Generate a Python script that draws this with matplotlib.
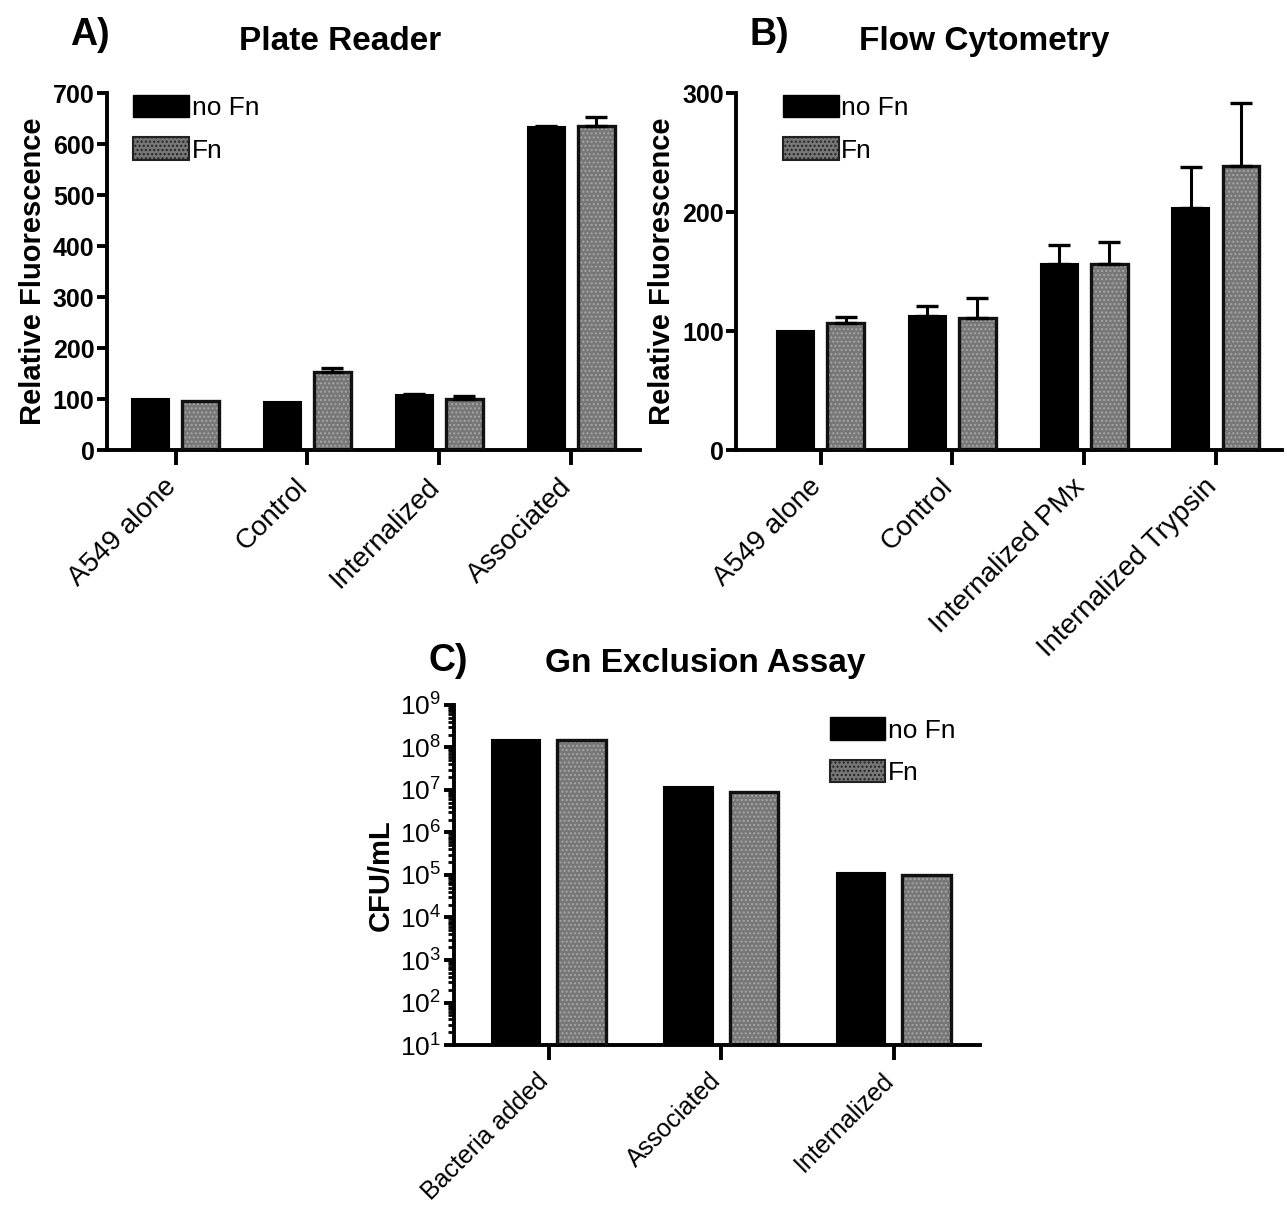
import numpy as np
import matplotlib
matplotlib.use("Agg")
import matplotlib.pyplot as plt
from matplotlib.patches import Patch
from matplotlib.ticker import LogLocator, NullFormatter, FixedLocator

plt.rcParams['font.family'] = ['Liberation Sans', 'DejaVu Sans']
plt.rcParams['hatch.linewidth'] = 1.0
plt.rcParams['mathtext.fontset'] = 'custom'
plt.rcParams['mathtext.rm'] = 'Liberation Sans'
plt.rcParams['mathtext.it'] = 'Liberation Sans'
plt.rcParams['mathtext.bf'] = 'Liberation Sans:bold'

# A) plate reader
plate_cats = ['A549 alone', 'Control', 'Internalized', 'Associated']
plate_nofn = [100, 95, 107, 634]
plate_nofn_err = [0, 0, 2, 2]
plate_fn = [97, 153, 100, 635]
plate_fn_err = [0, 8, 6, 18]

# B) flow cytometry
flow_cats = ['A549 alone', 'Control', 'Internalized PMx', 'Internalized Trypsin']
flow_nofn = [100, 113, 156, 203]
flow_nofn_err = [0, 8, 16, 35]
flow_fn = [107, 111, 156, 239]
flow_fn_err = [5, 17, 19, 53]

# C) gentamicin exclusion, CFU/mL
gn_cats = ['Bacteria added', 'Associated', 'Internalized']
gn_nofn = [1.5e8, 1.2e7, 1.1e5]
gn_fn = [1.45e8, 9.0e6, 1.0e5]

BAR_W = 0.28
OFF = 0.19
FN_GRAY = '#777777'
FN_DOTS = '#a6a6a6'


def draw_bars(ax, cats, nofn, fn, nofn_err=None, fn_err=None, label_size=20):
    x = np.arange(len(cats))
    ax.bar(x - OFF, nofn, BAR_W, color='black', edgecolor='black', lw=1.5, zorder=2)
    # speckled grey for the Fn series
    ax.bar(x + OFF, fn, BAR_W, color=FN_GRAY, edgecolor=FN_DOTS, hatch='....',
           lw=0, zorder=2)
    ax.bar(x + OFF, fn, BAR_W, fill=False, edgecolor='#111111', lw=2.4, zorder=3)
    for xs, vals, errs in ((x - OFF, nofn, nofn_err), (x + OFF, fn, fn_err)):
        if errs is None:
            continue
        for xi, v, e in zip(xs, vals, errs):
            if e > 0:
                ax.errorbar(xi, v, yerr=[[0], [e]], fmt='none', ecolor='black',
                            elinewidth=2.2, capsize=8, capthick=2.4, zorder=4)
    ax.set_xticks(x)
    ax.set_xticklabels([])
    # rotated category names, placed just under the tick marks
    for xi, name in zip(x, cats):
        ax.annotate(name, xy=(xi, 0), xycoords=('data', 'axes fraction'),
                    xytext=(-9, -17), textcoords='offset points',
                    rotation=45, rotation_mode='anchor', ha='right', va='top',
                    fontsize=label_size)
    ax.set_xlim(-0.52, len(cats) - 0.48)
    for s in ('top', 'right'):
        ax.spines[s].set_visible(False)
    for s in ('left', 'bottom'):
        ax.spines[s].set_linewidth(2.8)
    ax.tick_params(axis='x', length=11, width=2.8, pad=3)
    ax.tick_params(axis='y', length=7, width=2.8, pad=2, labelsize=18)


def bold_yticks(ax):
    for lab in ax.get_yticklabels():
        lab.set_fontweight('bold')


def fn_legend(ax, anchor):
    handles = [Patch(facecolor='black', edgecolor='black'),
               Patch(facecolor=FN_GRAY, edgecolor='#222222', hatch='....', lw=1.5)]
    ax.legend(handles, ['no Fn', 'Fn'], loc='upper left', bbox_to_anchor=anchor,
              frameon=False, fontsize=19, handlelength=2.1, handleheight=0.95,
              handletextpad=0.1, labelspacing=0.65, borderaxespad=0)


fig = plt.figure(figsize=(12.87, 12.11), dpi=100)

axA = fig.add_axes([0.0831, 0.6284, 0.414, 0.2948])
draw_bars(axA, plate_cats, plate_nofn, plate_fn, plate_nofn_err, plate_fn_err)
axA.set_ylim(0, 700)
axA.set_yticks(range(0, 701, 100))
bold_yticks(axA)
axA.set_ylabel('Relative Fluorescence', fontsize=21, fontweight='bold', labelpad=4)
fn_legend(axA, (0.03, 1.025))
fig.text(0.0695, 0.971, 'A)', fontsize=27, fontweight='heavy', ha='center', va='center')
fig.text(0.264, 0.966, 'Plate Reader', fontsize=24, fontweight='bold', ha='center', va='center')

axB = fig.add_axes([0.572, 0.6284, 0.424, 0.2948])
draw_bars(axB, flow_cats, flow_nofn, flow_fn, flow_nofn_err, flow_fn_err)
axB.set_xlim(-0.64, 3.5)
axB.set_ylim(0, 300)
axB.set_yticks([0, 100, 200, 300])
bold_yticks(axB)
axB.set_ylabel('Relative Fluorescence', fontsize=21, fontweight='bold', labelpad=4)
fn_legend(axB, (0.067, 1.025))
fig.text(0.598, 0.971, 'B)', fontsize=27, fontweight='heavy', ha='center', va='center')
fig.text(0.765, 0.966, 'Flow Cytometry', fontsize=24, fontweight='bold', ha='center', va='center')

axC = fig.add_axes([0.3525, 0.137, 0.409, 0.281])
axC.set_yscale('log')
draw_bars(axC, gn_cats, gn_nofn, gn_fn, label_size=18)
axC.set_xlim(-0.55, 2.5)
axC.set_ylim(10, 1e9)
axC.yaxis.set_major_locator(FixedLocator([10.0 ** k for k in range(1, 10)]))
axC.set_yticklabels([r'$\mathrm{10^{%d}}$' % k for k in range(1, 10)], fontsize=19)
axC.yaxis.set_minor_locator(LogLocator(base=10, subs=np.arange(2, 10), numticks=20))
axC.yaxis.set_minor_formatter(NullFormatter())
axC.tick_params(axis='y', which='minor', length=4, width=2)
axC.set_ylabel('CFU/mL', fontsize=21, fontweight='bold', labelpad=4)
fn_legend(axC, (0.695, 0.995))
fig.text(0.348, 0.454, 'C)', fontsize=27, fontweight='heavy', ha='center', va='center')
fig.text(0.548, 0.452, 'Gn Exclusion Assay', fontsize=24, fontweight='bold', ha='center', va='center')

fig.savefig('out.png', dpi=100, facecolor='white')
